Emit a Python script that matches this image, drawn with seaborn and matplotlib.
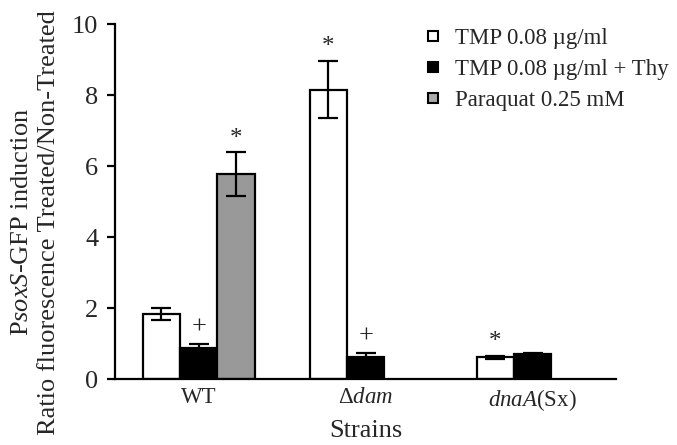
import matplotlib
matplotlib.use("Agg")
import matplotlib.pyplot as plt
import seaborn as sns
import pandas as pd
from matplotlib.lines import Line2D

strains = ["WT", "dam", "dnaA"]
strain_labels = ["WT", r"$\Delta\mathit{dam}$", r"$\mathit{dnaA}$(Sx)"]
treatments = ["TMP 0.08 µg/ml", "TMP 0.08 µg/ml + Thy", "Paraquat 0.25 mM"]
colors = ["white", "black", "#999999"]

tmp_vals = [1.84, 8.15, 0.61]
tmp_err = [0.17, 0.81, 0.04]
thy_vals = [0.89, 0.63, 0.71]
thy_err = [0.09, 0.10, 0.04]
pq_vals = [5.77]
pq_err = [0.62]
pq_strains = ["WT"]

tmp_marks = ["", "*", "*"]
thy_marks = ["+", "+", ""]
pq_marks = ["*"]

sns.set_style("white")
plt.rcParams["font.family"] = ["Liberation Serif", "DejaVu Serif"]
plt.rcParams["mathtext.fontset"] = "custom"
plt.rcParams["mathtext.rm"] = "Liberation Serif"
plt.rcParams["mathtext.it"] = "Liberation Serif:italic"

rows = []
for s, v, e, m in zip(strains, tmp_vals, tmp_err, tmp_marks):
    rows.append((s, treatments[0], v, e, m))
for s, v, e, m in zip(strains, thy_vals, thy_err, thy_marks):
    rows.append((s, treatments[1], v, e, m))
for s, v, e, m in zip(pq_strains, pq_vals, pq_err, pq_marks):
    rows.append((s, treatments[2], v, e, m))
df = pd.DataFrame(rows, columns=["strain", "treatment", "value", "err", "mark"])

fig = plt.figure(figsize=(6.77, 4.45), dpi=100)
ax = fig.add_axes([0.170, 0.148, 0.740, 0.798])

sns.barplot(data=df, x="strain", y="value", hue="treatment",
            order=strains, hue_order=treatments, palette=colors,
            width=0.67, errorbar=None, edgecolor="black", linewidth=1.6,
            ax=ax, legend=False)

mark_style = {"*": dict(size=18, off=5.5), "+": dict(size=19, off=7.5)}

for ti, t in enumerate(treatments):
    sub = df[df.treatment == t].set_index("strain")
    cont = ax.containers[ti]
    for si, s in enumerate(strains):
        if s not in sub.index:
            continue
        bar = cont.patches[si]
        x = bar.get_x() + bar.get_width() / 2
        v = sub.loc[s, "value"]
        e = sub.loc[s, "err"]
        ax.errorbar(x, v, yerr=e, color="black", capsize=7, elinewidth=1.6,
                    capthick=1.6, zorder=5)
        m = sub.loc[s, "mark"]
        if m:
            st = mark_style[m]
            ax.annotate(m, (x, v + e), xytext=(0, st["off"]),
                        textcoords="offset points", ha="center",
                        va="baseline", fontsize=st["size"])

ax.set_ylim(0, 10)
ax.set_xlim(-0.5, 2.5)
ax.set_yticks([0, 2, 4, 6, 8, 10])
ax.set_xticks([0, 1, 2])
ax.set_xticklabels(strain_labels)
ax.set_xticks([-0.5, 0.5, 1.5, 2.5], minor=True)
ax.tick_params(axis="x", which="major", length=0, labelsize=16.5, pad=6)
ax.tick_params(axis="x", which="minor", length=6, width=1.6, direction="out", color="black")
ax.tick_params(axis="y", length=6, width=1.6, direction="out", labelsize=19,
               color="black", left=True, pad=6)
for sp in ["top", "right"]:
    ax.spines[sp].set_visible(False)
for sp in ["left", "bottom"]:
    ax.spines[sp].set_color("black")
    ax.spines[sp].set_linewidth(1.6)

ax.set_xlabel("Strains", fontsize=19, labelpad=5)
ax.set_ylabel("P$\\mathit{soxS}$-GFP induction\nRatio fluorescence Treated/Non-Treated",
              fontsize=19, linespacing=1.3)
ax.yaxis.set_label_coords(-0.11, 0.442)

handles = [Line2D([0], [0], marker="s", linestyle="none", markersize=7.5,
                  markerfacecolor=c, markeredgecolor="black", markeredgewidth=1.5)
           for c in ["white", "black", "#aaaaaa"]]
fig.legend(handles, treatments, loc="center left", bbox_to_anchor=(0.597, 0.843),
           frameon=False, fontsize=16.5, handletextpad=0.6, labelspacing=0.43,
           handlelength=0.7, borderpad=0.4)

fig.savefig("out.png", dpi=100)
